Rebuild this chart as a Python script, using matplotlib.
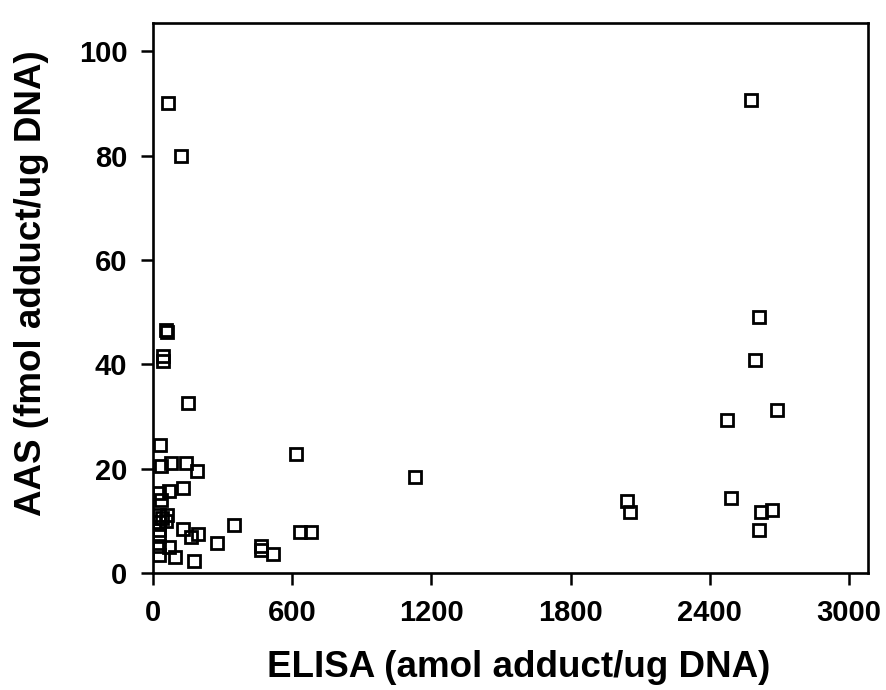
import matplotlib.pyplot as plt

# ELISA vs AAS values
elisa = [65, 120, 55, 60, 45, 45, 152, 30, 36, 79, 141, 189, 131, 69, 26, 33,
         26, 62, 40, 26, 55, 26, 131, 165, 192, 26, 278, 69, 26, 26, 94, 177,
         350, 467, 465, 518, 635, 681, 616, 1128, 2043, 2055,
         2576, 2613, 2596, 2688, 2474, 2492, 2619, 2668, 2613]
aas = [90.0, 79.9, 46.6, 46.2, 41.5, 40.6, 32.6, 24.5, 20.5, 21.1, 21.1, 19.6,
       16.2, 15.7, 15.3, 14.0, 11.1, 11.1, 10.6, 9.8, 10.0, 8.2, 8.4, 6.8, 7.4,
       7.0, 5.8, 5.0, 5.2, 3.4, 3.0, 2.3, 9.2, 5.1, 4.4, 3.6, 7.8, 7.8, 22.8,
       18.4, 13.7, 11.6, 90.7, 49.1, 40.9, 31.2, 29.3, 14.3, 11.7, 12.1, 8.2]

xticks = [0, 600, 1200, 1800, 2400, 3000]
yticks = [0, 20, 40, 60, 80, 100]

plt.rcParams['font.family'] = 'Liberation Sans'
plt.rcParams['font.weight'] = 'bold'

fig = plt.figure(figsize=(8.87, 6.9), dpi=100)
ax = fig.add_axes([0.1725, 0.1696, 0.806, 0.797])

ax.plot(elisa, aas, 's', ms=9, mfc='none', mec='black', mew=2)

ax.set_xlim(0, 3082)
ax.set_ylim(0, 105.4)
ax.set_xticks(xticks)
ax.set_yticks(yticks)

for s in ax.spines.values():
    s.set_linewidth(1.9)

ax.tick_params(direction='out', length=8.5, width=1.8, pad=10, labelsize=21)

ax.set_xlabel('ELISA (amol adduct/ug DNA)', fontsize=26.5, fontweight='bold')
ax.set_ylabel('AAS (fmol adduct/ug DNA)', fontsize=26.5, fontweight='bold')
ax.xaxis.set_label_coords(0.511, -0.14)
ax.yaxis.set_label_coords(-0.145, 0.527)

fig.savefig('out.png', dpi=100)
